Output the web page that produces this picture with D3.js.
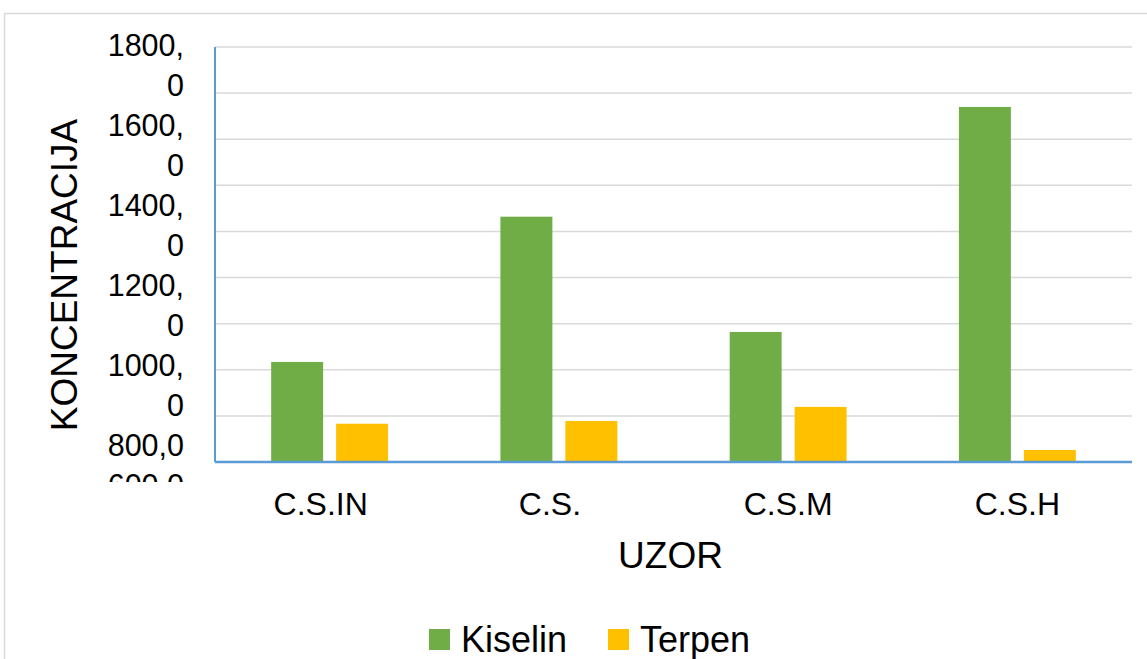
<!DOCTYPE html>
<html>
<head>
<meta charset="utf-8">
<script src="https://cdn.jsdelivr.net/npm/d3@7"></script>
<style>
  body { margin: 0; background: #ffffff; }
  text { font-family: "Liberation Sans", Arial, sans-serif; fill: #000000; white-space: pre; }
</style>
</head>
<body>
<div id="chart"></div>
<script>
//chart data (trailing spaces as in the source sheet labels)
var categories = ["C.S.IN  ", "C.S.  ", "C.S.M", "C.S.H"];
var seriesNames = ["Kiselin", "Terpen"];
var kiselin = [434, 1064, 564, 1540];
var terpen = [166, 178, 239, 52];
var yTicks = [0, 200, 400, 600, 800, 1000, 1200, 1400, 1600, 1800];
var colors = ["#70ad47", "#ffc000"];

var width = 1147;
var height = 659;
var margin = {left: 215, right: 15, top: 47, bottom: 197};

var svg = d3.select("#chart").append("svg")
    .attr("width", width)
    .attr("height", height);

//chart border
svg.append("rect")
    .attr("x", 4.5).attr("y", 13.5)
    .attr("width", width + 10).attr("height", height + 10)
    .attr("fill", "#ffffff")
    .attr("stroke", "#d9d9d9")
    .attr("stroke-width", 1.5);

//scales
var y = d3.scaleLinear()
    .domain([0, 1800])
    .range([height - margin.bottom, margin.top]);

var x0 = d3.scaleBand()
    .domain(categories)
    .range([margin.left, width - margin.right])
    .paddingInner(0.49)
    .paddingOuter(0.245);

var x1 = d3.scaleBand()
    .domain(seriesNames)
    .range([0, x0.bandwidth()])
    .paddingInner(0.2);

//gridlines
svg.append("g")
    .selectAll("line")
    .data(yTicks.filter(function(d) { return d > 0; }))
    .enter().append("line")
    .attr("x1", margin.left)
    .attr("x2", width - margin.right)
    .attr("y1", function(d) { return y(d); })
    .attr("y2", function(d) { return y(d); })
    .attr("stroke", "#d9d9d9")
    .attr("stroke-width", 1.5);

//bars
var rows = categories.map(function(c, i) {
  return {cat: c, values: [kiselin[i], terpen[i]]};
});

var groups = svg.append("g")
    .selectAll("g")
    .data(rows)
    .enter().append("g")
    .attr("transform", function(d) { return "translate(" + x0(d.cat) + ",0)"; });

groups.selectAll("rect")
    .data(function(d) { return d.values.map(function(v, j) { return {s: seriesNames[j], v: v, j: j}; }); })
    .enter().append("rect")
    .attr("x", function(d) { return x1(d.s); })
    .attr("width", x1.bandwidth())
    .attr("y", function(d) { return y(d.v); })
    .attr("height", function(d) { return y(0) - y(d.v); })
    .attr("fill", function(d) { return colors[d.j]; });

//axis lines
svg.append("line")
    .attr("x1", margin.left).attr("x2", margin.left)
    .attr("y1", y(1800)).attr("y2", y(0))
    .attr("stroke", "#5b9bd5").attr("stroke-width", 2);

svg.append("line")
    .attr("x1", margin.left).attr("x2", width - margin.right)
    .attr("y1", y(0)).attr("y2", y(0))
    .attr("stroke", "#5b9bd5").attr("stroke-width", 2.5);

//y tick labels: wrapped "1800," / "0" and flowed top-down, clipped at bottom
svg.append("clipPath").attr("id", "yclip")
  .append("rect").attr("x", 0).attr("y", 20).attr("width", 200).attr("height", 462);

var fmt = function(d) { return d.toFixed(1).replace(".", ","); };
var lines = [];
yTicks.slice().reverse().forEach(function(t) {
  var s = fmt(t);
  if (s.length > 5) {
    var k = s.indexOf(",") + 1;
    lines.push(s.slice(0, k));
    lines.push(s.slice(k));
  } else {
    lines.push(s);
  }
});

svg.append("g")
    .attr("clip-path", "url(#yclip)")
    .selectAll("text")
    .data(lines)
    .enter().append("text")
    .attr("x", 184)
    .attr("y", function(d, i) { return 56 + i * 40; })
    .attr("text-anchor", "end")
    .style("font-size", "30.5px")
    .text(function(d) { return d; });

//x tick labels
svg.append("g")
    .selectAll("text")
    .data(categories)
    .enter().append("text")
    .attr("x", function(d) { return x0(d) + x0.bandwidth() / 2; })
    .attr("y", 515)
    .attr("text-anchor", "middle")
    .style("font-size", "32px")
    .text(function(d) { return d; });

//axis titles
svg.append("text")
    .attr("x", (margin.left + width - margin.right) / 2 - 3)
    .attr("y", 568)
    .attr("text-anchor", "middle")
    .style("font-size", "37px")
    .text("UZOR");

svg.append("text")
    .attr("transform", "translate(77," + 275 + ") rotate(-90)")
    .attr("text-anchor", "middle")
    .style("font-size", "37px")
    .text("KONCENTRACIJA");

//legend
var legendX = [429, 608];
var legend = svg.append("g")
    .selectAll("g")
    .data(seriesNames)
    .enter().append("g")
    .attr("transform", function(d, i) { return "translate(" + legendX[i] + ",629)"; });

legend.append("rect")
    .attr("width", 21).attr("height", 21)
    .attr("fill", function(d, i) { return colors[i]; });

legend.append("text")
    .attr("x", 32)
    .attr("y", 23)
    .style("font-size", "36px")
    .text(function(d) { return d; });
</script>
</body>
</html>
